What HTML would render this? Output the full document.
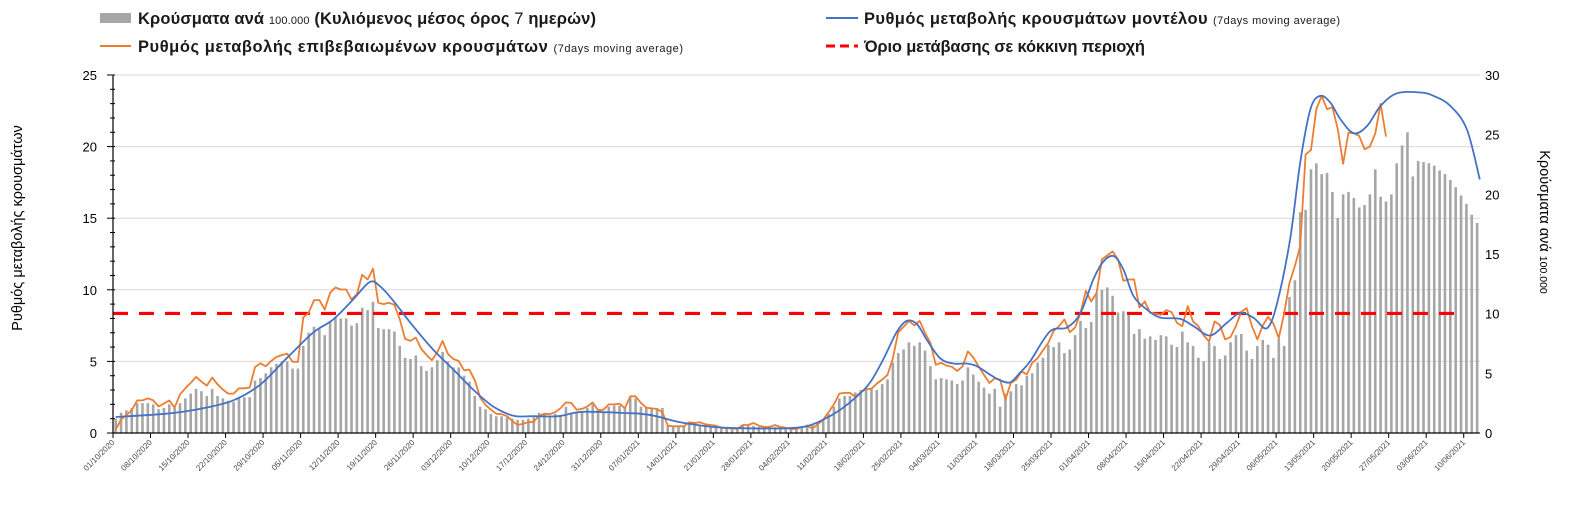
<!DOCTYPE html>
<html><head><meta charset="utf-8"><style>
html,body{margin:0;padding:0;background:#fff;}
svg{display:block;font-family:"Liberation Sans","DejaVu Sans",sans-serif;}
</style></head><body>
<svg id="chart" width="1591" height="517" viewBox="0 0 1591 517" xmlns="http://www.w3.org/2000/svg">
<g id="legend">
  <g>
    <rect x="100" y="13" width="31" height="10" fill="#a6a6a6"/>
    <text x="138" y="24" font-size="16.5" font-weight="bold" fill="#1a1a1a" textLength="458" lengthAdjust="spacing">Κρούσματα ανά <tspan font-size="11" font-weight="normal">100.000</tspan> (Κυλιόμενος μέσος όρος <tspan font-weight="normal">7</tspan> ημερών)</text>
  </g>
  <g>
    <line x1="100" y1="46" x2="131" y2="46" stroke="#ed7d31" stroke-width="2"/>
    <text x="138" y="52" font-size="16.5" font-weight="bold" fill="#1a1a1a" textLength="545" lengthAdjust="spacing">Ρυθμός μεταβολής επιβεβαιωμένων κρουσμάτων <tspan font-size="11" font-weight="normal">(7days moving average)</tspan></text>
  </g>
  <g>
    <line x1="826" y1="18" x2="858" y2="18" stroke="#4472c4" stroke-width="2"/>
    <text x="864" y="24" font-size="16.5" font-weight="bold" fill="#1a1a1a" textLength="476" lengthAdjust="spacing">Ρυθμός μεταβολής κρουσμάτων μοντέλου <tspan font-size="11" font-weight="normal">(7days moving average)</tspan></text>
  </g>
  <g>
    <line x1="826" y1="46" x2="858" y2="46" stroke="#ff0000" stroke-width="3" stroke-dasharray="9,5"/>
    <text x="864" y="52" font-size="16.5" font-weight="bold" fill="#1a1a1a" textLength="281" lengthAdjust="spacing">Όριο μετάβασης σε κόκκινη περιοχή</text>
  </g>
</g>
<text transform="translate(22,228) rotate(-90)" text-anchor="middle" font-size="14.5" fill="#000">Ρυθμός μεταβολής κρουσμάτων</text>
<text transform="translate(1540,222) rotate(90)" text-anchor="middle" font-size="14.5" fill="#000">Κρούσματα ανά <tspan font-size="10.5">100.000</tspan></text>
<g id="grid"></g>
<g id="bars"></g>
<g id="lines"></g>
<g id="axes"></g>
</svg>
<script>
const tickLabels = ["01/10/2020","08/10/2020","15/10/2020","22/10/2020","29/10/2020","05/11/2020","12/11/2020","19/11/2020","26/11/2020","03/12/2020","10/12/2020","17/12/2020","24/12/2020","31/12/2020","07/01/2021","14/01/2021","21/01/2021","28/01/2021","04/02/2021","11/02/2021","18/02/2021","25/02/2021","04/03/2021","11/03/2021","18/03/2021","25/03/2021","01/04/2021","08/04/2021","15/04/2021","22/04/2021","29/04/2021","06/05/2021","13/05/2021","20/05/2021","27/05/2021","03/06/2021","10/06/2021"];
const leftTicks = [0,5,10,15,20,25];
const rightTicks = [0,5,10,15,20,25,30];
const casesPer100k = [1.2,1.7,1.9,2.1,2.5,2.5,2.5,2.4,2.0,2.1,2.4,2.1,2.5,2.9,3.3,3.7,3.5,3.1,3.7,3.1,2.9,2.7,2.6,3.0,3.0,3.0,4.4,4.6,5.0,5.5,5.8,6.0,6.0,5.4,5.4,7.3,8.4,8.9,8.7,8.2,9.4,9.7,9.6,9.6,9.0,9.2,10.5,10.3,11.0,8.8,8.7,8.7,8.5,7.3,6.3,6.2,6.5,5.6,5.2,5.5,6.1,6.8,6.0,5.5,5.5,4.8,4.3,3.1,2.2,2.0,1.6,1.4,1.4,1.3,1.2,1.1,1.1,1.2,1.3,1.7,1.6,1.4,1.6,1.5,
2.2,1.7,1.7,1.8,2.1,2.4,1.9,1.7,2.2,2.3,2.3,2.1,3.0,2.9,2.2,2.1,2.1,2.1,2.1,
0.6,0.6,0.6,0.6,0.8,0.8,0.7,0.7,0.6,0.5,0.5,0.5,0.4,0.4,0.6,0.7,0.6,0.5,0.5,0.6,0.5,0.4,0.4,0.3,0.4,0.5,0.7,0.7,0.9,1.1,
1.6,2.2,2.9,3.1,3.1,3.4,3.6,3.8,3.8,3.6,4.1,4.5,5.9,6.7,7.0,7.6,7.3,7.6,6.9,5.6,4.5,4.6,4.5,4.4,4.1,4.4,5.5,4.9,4.3,3.8,3.3,3.7,
2.2,3.3,3.5,4.1,4.0,4.8,5.0,5.9,6.3,7.4,7.2,7.6,6.7,7.0,8.2,9.4,8.8,9.3,11.7,12.0,12.2,11.5,10.1,10.2,9.9,8.3,8.7,7.9,8.1,7.8,8.2,8.1,7.4,7.2,8.5,7.6,7.3,6.3,6.0,7.6,7.3,6.2,6.5,7.6,8.2,8.3,6.9,6.2,7.3,7.8,7.4,6.3,7.9,7.3,11.4,12.8,18.5,18.7,22.1,22.6,21.7,21.8,20.2,18.0,20.0,20.2,19.7,18.9,19.1,20.0,22.1,19.8,19.4,20.0,22.6,24.1,25.2,21.5,22.8,22.7,22.6,22.4,22.0,21.7,21.2,20.6,19.9,19.2,18.3,17.6];
const confirmedRate = [0.23,0.93,1.26,1.59,2.28,2.28,2.42,2.28,1.86,2.05,2.28,1.77,2.70,3.12,3.50,3.92,3.59,3.31,3.87,3.40,3.03,2.75,2.75,3.12,3.12,3.17,4.60,4.87,4.66,5.03,5.31,5.45,5.54,4.97,4.97,8.07,8.39,9.28,9.28,8.62,9.79,10.16,10.02,10.02,9.32,9.70,11.05,10.72,11.47,9.09,9.00,9.09,8.95,7.93,6.57,6.43,6.67,5.87,5.45,5.08,5.64,6.43,5.50,5.17,5.03,4.38,4.43,3.68,2.47,1.96,1.63,1.35,1.31,1.17,0.84,0.56,0.65,0.75,0.79,1.21,1.35,1.31,1.45,1.73,
2.14,2.10,1.63,1.68,1.86,2.14,1.59,1.63,2.0,2.0,2.05,1.72,2.56,2.56,2.10,1.77,1.72,1.68,1.45,0.51,0.47,0.47,0.47,0.75,0.70,0.75,0.61,0.56,0.51,0.37,0.33,0.33,0.28,0.56,0.56,0.70,0.51,0.42,0.42,0.56,0.42,0.37,0.28,0.28,0.42,0.47,0.33,0.61,0.93,1.45,2.0,2.75,2.80,2.80,2.52,2.84,3.08,3.08,3.45,3.73,4.06,5.22,7.04,7.41,7.83,7.51,7.83,6.99,6.29,4.76,4.90,4.71,4.62,4.34,4.66,5.69,5.27,4.66,4.06,3.50,3.82,3.73,
2.33,3.50,3.73,4.29,4.10,4.90,5.22,5.78,6.29,7.13,7.46,7.93,7.04,7.37,8.39,9.93,9.18,9.79,12.12,12.40,12.68,12.12,10.63,10.72,10.72,8.76,9.18,8.39,8.34,8.25,8.58,8.44,7.69,7.46,8.86,7.79,7.46,6.81,6.39,7.79,7.55,6.53,6.71,7.46,8.48,8.72,7.46,6.53,7.51,8.11,7.65,6.62,8.39,10.49,11.66,13.05,19.44,19.77,22.61,23.54,22.61,22.75,21.21,18.79,20.98,20.93,20.75,19.81,20.0,20.93,22.98,20.70];
const modelDays = [0,9.5,15.7,21.9,26.9,31.9,36.8,40.6,44.3,47.4,49.3,51.8,55.5,59.2,63,66.7,70.4,74.2,77.9,82.6,85.4,87.9,94.7,97.8,100.9,105.3,111.5,117.7,125.2,128.9,132,135.2,138.3,140.7,143.2,145.7,147.6,149.5,151.3,153.8,156.3,158.8,160.7,163.2,165,166.9,168.7,170.6,174.3,177.5,180,182.4,184.3,186.2,188,189.9,192.4,194.9,198.6,201.1,204.2,207.3,209.8,212.3,214.8,216.7,219.1,221,222.9,224.7,226.6,228.5,231,233.5,236,239.1,243.4,245.9,249,252.1,254.5];
const modelRate = [1.12,1.35,1.68,2.28,3.36,5.22,7.0,7.93,9.32,10.54,10.26,9.23,7.46,5.83,4.43,3.03,1.86,1.21,1.17,1.17,1.40,1.49,1.40,1.35,1.17,0.75,0.42,0.33,0.33,0.47,0.93,1.63,2.56,3.50,5.13,7.04,7.83,7.6,6.53,5.22,4.85,4.85,4.66,4.06,3.68,3.54,4.20,5.0,7.09,7.37,8.39,10.72,11.98,12.35,11.42,9.56,8.62,8.06,7.97,7.46,6.81,7.69,8.39,8.04,7.32,9.09,13.52,18.88,22.61,23.54,23.08,21.91,20.93,21.45,22.84,23.73,23.78,23.54,22.84,21.2,17.7];
const redThreshold = [8.35];

const NS="http://www.w3.org/2000/svg";
const X0=113, DX=5.36, NDAYS=255, Y0=433, YTOP=75;
const xDay = d => X0 + DX*(d+0.5);
const yL = v => Y0 - (Y0-YTOP)*v/25;
const yR = v => Y0 - (Y0-YTOP)*v/30;
const XR = X0 + DX*NDAYS;
function mk(tag, attrs, parent){const e=document.createElementNS(NS,tag);for(const k in attrs)e.setAttribute(k,attrs[k]);parent.appendChild(e);return e;}

const grid=document.getElementById('grid');
leftTicks.forEach(v=>{
  const g=mk('line',{x1:X0,x2:XR,y1:yL(v),y2:yL(v),stroke:'#d9d9d9','stroke-width':1},grid);
  
  
});

const bars=document.getElementById('bars');
casesPer100k.forEach((v,i)=>{
  const r=mk('rect',{x:xDay(i)-1.3,y:yR(v),width:2.6,height:Y0-yR(v),fill:'#a6a6a6'},bars);
  
  
});

const lines=document.getElementById('lines');
const thr=mk('line',{x1:X0,x2:1463,y1:yL(redThreshold[0]),y2:yL(redThreshold[0]),stroke:'#ff0000','stroke-width':3.2,'stroke-dasharray':'15,11'},lines);



const op=confirmedRate.map((v,i)=>xDay(i).toFixed(1)+','+yL(v).toFixed(1)).join(' ');
const ol=mk('polyline',{points:op,fill:'none',stroke:'#ed7d31','stroke-width':1.8,'stroke-linejoin':'round'},lines);



const pts=modelDays.map((d,i)=>[xDay(d),yL(modelRate[i])]);
let dPath='M'+pts[0][0].toFixed(1)+','+pts[0][1].toFixed(1);
for(let i=0;i<pts.length-1;i++){
  const p0=pts[Math.max(i-1,0)],p1=pts[i],p2=pts[i+1],p3=pts[Math.min(i+2,pts.length-1)];
  const c1=[p1[0]+(p2[0]-p0[0])/6,p1[1]+(p2[1]-p0[1])/6];
  const c2=[p2[0]-(p3[0]-p1[0])/6,p2[1]-(p3[1]-p1[1])/6];
  dPath+=' C'+c1.map(n=>n.toFixed(1)).join(',')+' '+c2.map(n=>n.toFixed(1)).join(',')+' '+p2.map(n=>n.toFixed(1)).join(',');
}
const bl=mk('path',{d:dPath,fill:'none',stroke:'#4472c4','stroke-width':1.8},lines);



const axes=document.getElementById('axes');
const la=mk('line',{x1:X0,x2:X0,y1:YTOP,y2:Y0,stroke:'#000','stroke-width':1.2},axes);


for(let v=0;v<=25;v++){
  const major=v%5===0;
  mk('line',{x1:major?X0-6:X0-3,x2:X0+2,y1:yL(v),y2:yL(v),stroke:'#000','stroke-width':1},axes);
}
leftTicks.forEach(v=>{
  const t=mk('text',{x:97,y:yL(v)+5,'text-anchor':'end','font-size':13,fill:'#000'},axes);
  t.textContent=v;
  
  
});
rightTicks.forEach(v=>{
  const t=mk('text',{x:1485,y:yR(v)+5,'font-size':13,fill:'#000'},axes);
  t.textContent=v;
  
  
});
const xa=mk('line',{x1:X0,x2:XR,y1:Y0,y2:Y0,stroke:'#000','stroke-width':1.2},axes);


tickLabels.forEach((lab,k)=>{
  const tx=X0+DX*7*k;
  mk('line',{x1:tx,x2:tx,y1:Y0,y2:Y0+5,stroke:'#000','stroke-width':1},axes);
  const t=mk('text',{transform:'translate('+(tx+2)+','+(Y0+10)+') rotate(-45)','text-anchor':'end','font-size':8,fill:'#444'},axes);
  t.textContent=lab;
  
  
});
</script>
</body></html>
